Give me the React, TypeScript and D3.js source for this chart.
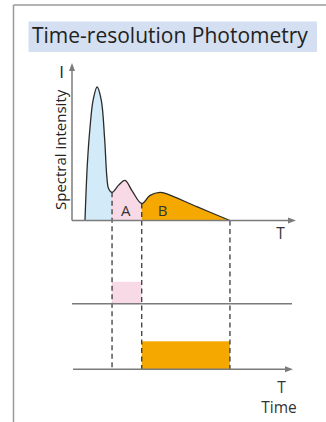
import React from "react";
import * as d3 from "d3";

// ---- data ----
const curveTime = [5.9, 7.0, 8.2, 9.6, 11.4, 13.3, 14.8, 15.9, 16.6, 18.2, 21.2, 24.1, 27.4, 31.7, 35.5, 40.0, 42.5, 57.0, 71.8];
const curveIntensity = [0, 38, 62, 80, 88.7, 80, 55, 28, 21.3, 18.7, 23.5, 26.7, 19.5, 11.3, 16.7, 18.7, 18.0, 9.0, 0];
const regionBounds = [5.9, 18.2, 31.7, 71.8];
const regionColors = ["#d3ebf8", "#f8d9e6", "#f5a800"];
const regionLabels = ["", "A", "B"];
const labelTime = [0, 24.4, 41.2];
const gateStart = [18.2, 31.7];
const gateEnd = [31.7, 71.8];
const gateLevel = [0.78, 1];
const gateColors = ["#f8d9e6", "#f5a800"];

const FONT = "'Open Sans', 'Noto Sans', sans-serif";

export default function App() {
  const x = d3.scaleLinear().domain([0, 100]).range([72, 292]);
  const y = d3.scaleLinear().domain([0, 100]).range([220.5, 70]);
  const gateH = d3.scaleLinear().domain([0, 1]).range([0, 28]);
  const rowBase = [303.7, 369.3];

  const pts: [number, number][] = curveTime.map((t, i) => [t, curveIntensity[i]]);
  const line = d3.line<[number, number]>().x(d => x(d[0])).y(d => y(d[1])).curve(d3.curveCatmullRom.alpha(0.5));
  const area = d3.area<[number, number]>().x(d => x(d[0])).y0(y(0)).y1(d => y(d[1])).curve(d3.curveCatmullRom.alpha(0.5));
  const interp = (t: number) => {
    for (let i = 0; i < curveTime.length - 1; i++) {
      if (t >= curveTime[i] && t <= curveTime[i + 1]) {
        const f = (t - curveTime[i]) / (curveTime[i + 1] - curveTime[i]);
        return curveIntensity[i] + f * (curveIntensity[i + 1] - curveIntensity[i]);
      }
    }
    return 0;
  };
  const axisColor = "#7b7b7b";
  const dashes = [regionBounds[1], regionBounds[2], regionBounds[3]];

  return (
    <svg width={326} height={422} style={{ position: "absolute", left: 0, top: 0 }} fontFamily={FONT}>
      <defs>
        {regionColors.map((c, i) => (
          <clipPath id={`clip${i}`} key={i}>
            <rect x={x(regionBounds[i])} y={0} width={x(regionBounds[i + 1]) - x(regionBounds[i])} height={422} />
          </clipPath>
        ))}
      </defs>
      <rect width={326} height={422} fill="#fff" />
      {/* frame */}
      <line x1={13.5} y1={5} x2={326} y2={5} stroke="#9a9a9a" strokeWidth={1.5} />
      <line x1={13.5} y1={5} x2={13.5} y2={422} stroke="#9a9a9a" strokeWidth={1.5} />
      {/* title */}
      <rect x={28.5} y={21.5} width={288.5} height={30.5} fill="#d4e0f1" />
      <text x={32} y={43} fontSize={21} fill="#222">Time-resolution Photometry</text>

      {/* filled regions */}
      {regionColors.map((c, i) => (
        <path key={i} d={area(pts) || ""} fill={c} clipPath={`url(#clip${i})`} />
      ))}
      <path d={line(pts) || ""} fill="none" stroke="#2b2b2b" strokeWidth={1.3} />
      {regionLabels.map((l, i) => l ? (
        <text key={i} x={x(labelTime[i])} y={215.5} fontSize={15} textAnchor="middle" fill="#333">{l}</text>
      ) : null)}

      {/* gates */}
      {gateStart.map((s, i) => (
        <rect key={i} x={x(s)} y={rowBase[i] - gateH(gateLevel[i])} width={x(gateEnd[i]) - x(s)} height={gateH(gateLevel[i])} fill={gateColors[i]} />
      ))}

      {/* dashed lines */}
      {dashes.map((t, i) => (
        <line key={i} x1={x(t)} x2={x(t)} y1={y(interp(t))} y2={rowBase[1]} stroke="#2b2b2b" strokeWidth={1.2} strokeDasharray="5,3.5" />
      ))}

      {/* axes */}
      <line x1={x(0)} y1={y(0)} x2={x(0)} y2={69} stroke={axisColor} strokeWidth={1.5} />
      <path d={`M${x(0)},63 L${x(0) - 3},71 L${x(0) + 3},71 Z`} fill={axisColor} />
      <line x1={x(0)} y1={y(0)} x2={290} y2={y(0)} stroke={axisColor} strokeWidth={1.5} />
      <path d={`M296,${y(0)} L288,${y(0) - 3} L288,${y(0) + 3} Z`} fill={axisColor} />
      <line x1={x(0)} y1={rowBase[0]} x2={292} y2={rowBase[0]} stroke={axisColor} strokeWidth={1.5} />
      <line x1={73} y1={rowBase[1]} x2={287} y2={rowBase[1]} stroke={axisColor} strokeWidth={1.5} />
      <path d={`M293,${rowBase[1]} L285,${rowBase[1] - 3} L285,${rowBase[1] + 3} Z`} fill={axisColor} />

      {/* axis labels */}
      <text transform="translate(65.5,210) rotate(-90)" fontSize={15} fill="#222">Spectral intensity</text>
      <text x={61.5} y={78} fontSize={17} textAnchor="middle" fill="#222">I</text>
      <text x={280.5} y={239} fontSize={15.5} textAnchor="middle" fill="#333">T</text>
      <text x={281.5} y={393} fontSize={15.5} textAnchor="middle" fill="#333">T</text>
      <text x={279} y={413} fontSize={15.5} textAnchor="middle" fill="#333">Time</text>
    </svg>
  );
}
